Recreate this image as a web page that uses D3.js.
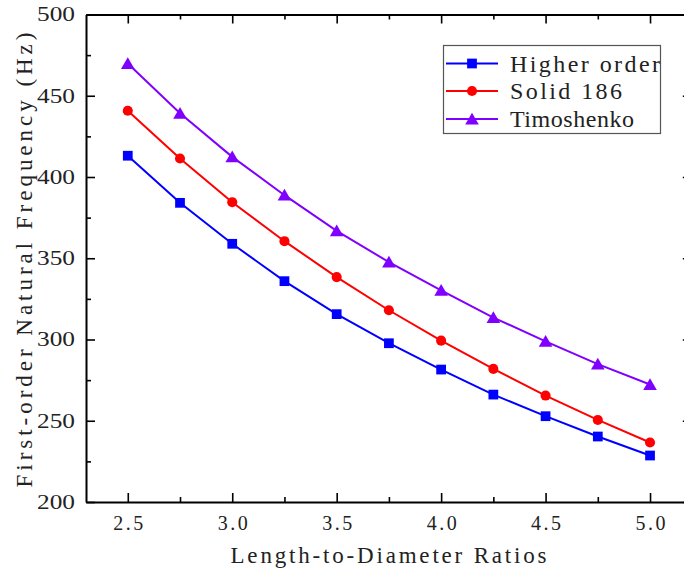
<!DOCTYPE html>
<html><head><meta charset="utf-8">
<script src="https://cdn.jsdelivr.net/npm/d3@7"></script>
<style>body{margin:0;background:#fff}svg{display:block}
svg text{font-family:"Liberation Serif","DejaVu Serif","Times New Roman",serif;}
</style>
</head><body>
<svg id="c" width="684" height="570"></svg>
<script>
const ratios = [2.5, 2.75, 3.0, 3.25, 3.5, 3.75, 4.0, 4.25, 4.5, 4.75, 5.0];
const higherOrder = [413.1, 384.1, 358.9, 335.9, 315.6, 297.7, 281.5, 266.1, 252.8, 240.3, 228.6];
const solid186 = [440.8, 411.4, 384.5, 360.5, 338.4, 318.0, 299.3, 281.9, 265.5, 250.5, 236.6];
const timoshenko = [469.8, 439.2, 412.4, 388.8, 366.9, 347.6, 330.2, 313.5, 298.9, 284.8, 272.3];
const seriesNames = ["Higher order", "Solid 186", "Timoshenko"];
const xTicks = [2.5, 3.0, 3.5, 4.0, 4.5, 5.0];
const xMinor = [2.75, 3.25, 3.75, 4.25, 4.75];
const yTicks = [200, 250, 300, 350, 400, 450, 500];
const yMinor = [225, 275, 325, 375, 425, 475];
const xTitle = "Length-to-Diameter Ratios";
const yTitle = "First-order Natural Frequency (Hz)";

const svg = d3.select("#c");
const L = 86, T = 14.5, B = 502;
const x = d3.scaleLinear().domain([2.3, 5.2]).range([L, L + 2.9 * 208.9]);
const y = d3.scaleLinear().domain([200, 500]).range([B, T]);
const R = x(5.2);

const colors = ["#0000ff", "#ff0000", "#8000ff"];
const shapes = [d3.symbolSquare, d3.symbolCircle, d3.symbolTriangle];
const sizes = [95, 80, 80];
const allSeries = [higherOrder, solid186, timoshenko];

function styleAxis(g) {
  g.select(".domain").attr("stroke", "#000").attr("stroke-width", 2);
  g.selectAll(".tick line").attr("stroke", "#000").attr("stroke-width", 1.6);
}
function styleText(sel, size) {
  sel.attr("font-family", null).style("font-size", size + "px").attr("fill", "#222");
}
const gxB = svg.append("g").attr("transform", `translate(0,${B})`)
  .call(d3.axisBottom(x).tickValues(xTicks).tickSize(-9).tickSizeOuter(0).tickPadding(14).tickFormat(d3.format(".1f")));
styleAxis(gxB);
gxB.attr("font-family", null);
styleText(gxB.selectAll(".tick text"), 20);
gxB.selectAll(".tick text").attr("textLength", 30).attr("lengthAdjust", "spacing");
const gxBm = svg.append("g").attr("transform", `translate(0,${B})`)
  .call(d3.axisBottom(x).tickValues(xMinor).tickSize(-5).tickSizeOuter(0).tickFormat(""));
styleAxis(gxBm); gxBm.select(".domain").remove();

const gxT = svg.append("g").attr("transform", `translate(0,${T})`)
  .call(d3.axisTop(x).tickValues(xTicks).tickSize(-9).tickSizeOuter(0).tickFormat(""));
styleAxis(gxT);
const gxTm = svg.append("g").attr("transform", `translate(0,${T})`)
  .call(d3.axisTop(x).tickValues(xMinor).tickSize(-5).tickSizeOuter(0).tickFormat(""));
styleAxis(gxTm); gxTm.select(".domain").remove();

const gyL = svg.append("g").attr("transform", `translate(${L},0)`)
  .call(d3.axisLeft(y).tickValues(yTicks).tickSize(-9).tickSizeOuter(0).tickPadding(11));
styleAxis(gyL);
gyL.attr("font-family", null);
styleText(gyL.selectAll(".tick text"), 20);
gyL.selectAll(".tick text").attr("textLength", 38).attr("lengthAdjust", "spacingAndGlyphs");
const gyLm = svg.append("g").attr("transform", `translate(${L},0)`)
  .call(d3.axisLeft(y).tickValues(yMinor).tickSize(-5).tickSizeOuter(0).tickFormat(""));
styleAxis(gyLm); gyLm.select(".domain").remove();

const gyR = svg.append("g").attr("transform", `translate(${R},0)`)
  .call(d3.axisRight(y).tickValues(yTicks).tickSize(-9).tickSizeOuter(0).tickFormat(""));
styleAxis(gyR);

// titles
svg.append("text").attr("x", 388.5).attr("y", 563).attr("text-anchor", "middle")
  .style("font-size", "23px").attr("fill", "#222")
  .attr("textLength", 316).attr("lengthAdjust", "spacing").text(xTitle);
svg.append("text").attr("transform", "translate(32,260) rotate(-90)").attr("text-anchor", "middle")
  .style("font-size", "23px").attr("fill", "#222")
  .attr("textLength", 455).attr("lengthAdjust", "spacing").text(yTitle);

// lines & markers
const line = d3.line().x((d, i) => x(ratios[i])).y(d => y(d));
allSeries.forEach((s, k) => {
  svg.append("path").datum(s).attr("d", line).attr("fill", "none")
    .attr("stroke", colors[k]).attr("stroke-width", 2);
  svg.append("g").selectAll("path").data(s).join("path")
    .attr("transform", (d, i) => `translate(${x(ratios[i])},${y(d) + (k === 2 ? 1.5 : 0)})`)
    .attr("d", d3.symbol().type(shapes[k]).size(sizes[k]))
    .attr("fill", colors[k]);
});

// legend
const lg = svg.append("g");
lg.append("rect").attr("x", 443.5).attr("y", 45.5).attr("width", 217).attr("height", 88)
  .attr("fill", "#fff").attr("stroke", "#555").attr("stroke-width", 1.2);
const rowsY = [63.5, 91, 119];
const textLens = [150, 112, 124];
seriesNames.forEach((n, k) => {
  lg.append("line").attr("x1", 446).attr("x2", 498).attr("y1", rowsY[k]).attr("y2", rowsY[k])
    .attr("stroke", colors[k]).attr("stroke-width", 2);
  lg.append("path").attr("transform", `translate(472,${rowsY[k] + (k === 2 ? 1.5 : 0)})`)
    .attr("d", d3.symbol().type(shapes[k]).size(sizes[k])).attr("fill", colors[k]);
  lg.append("text").attr("x", 510).attr("y", rowsY[k] + 8)
    .style("font-size", "24px").attr("fill", "#222").attr("textLength", textLens[k])
    .attr("lengthAdjust", "spacing").text(n);
});
</script>
</body></html>
